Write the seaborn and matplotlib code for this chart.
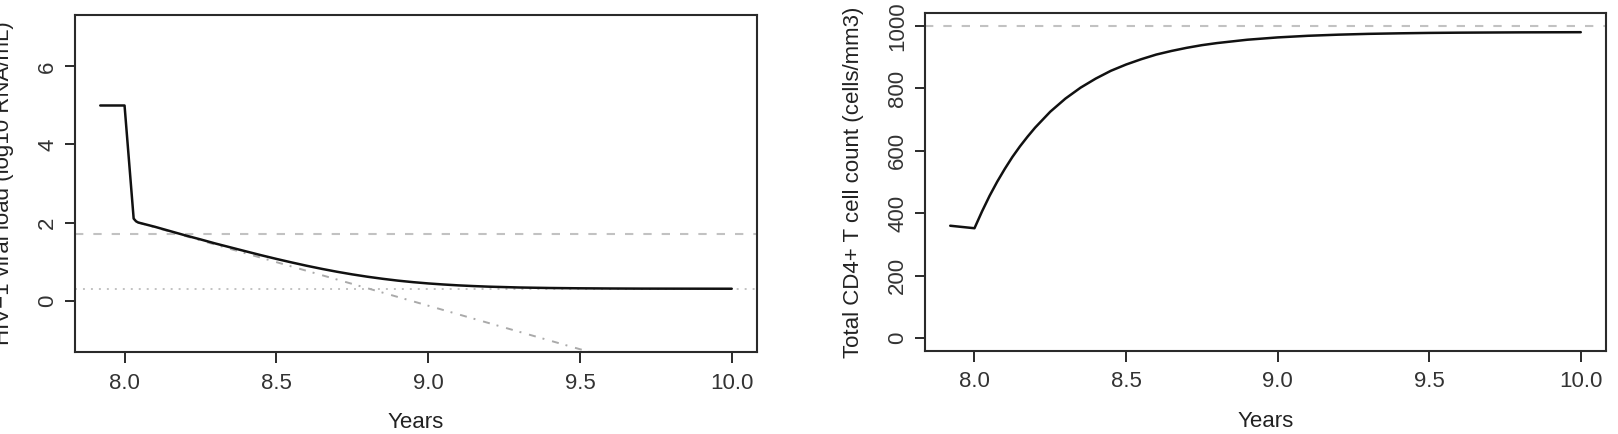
import numpy as np
import pandas as pd
import matplotlib
matplotlib.use("Agg")
import matplotlib.pyplot as plt
import seaborn as sns

# ---- data ----
vl_years = [7.92, 8.0, 8.03, 8.038, 8.045, 8.1, 8.15, 8.2, 8.25, 8.3, 8.35, 8.4, 8.45,
            8.5, 8.55, 8.6, 8.65, 8.7, 8.75, 8.8, 8.85, 8.9, 8.95, 9.0, 9.05, 9.1,
            9.15, 9.2, 9.3, 9.4, 9.5, 9.6, 9.7, 9.8, 9.9, 10.0]
vl_log10 = [5.0, 5.0, 2.1, 2.03, 2.0, 1.89, 1.78, 1.67, 1.567, 1.46, 1.36, 1.26, 1.161,
            1.067, 0.977, 0.891, 0.811, 0.737, 0.67, 0.61, 0.557, 0.51, 0.471, 0.438, 0.411, 0.388,
            0.37, 0.355, 0.334, 0.321, 0.313, 0.308, 0.305, 0.304, 0.303, 0.302]
decay_years = [8.045, 9.55]
decay_log10 = [2.0, -1.36]
vl_threshold = 1.699   # log10(50)
vl_floor = 0.301       # log10(2)

cd4_years = [7.92, 8.0, 8.025, 8.05, 8.075, 8.1, 8.125, 8.15, 8.175, 8.2, 8.25, 8.3,
             8.35, 8.4, 8.45, 8.5, 8.55, 8.6, 8.65, 8.7, 8.75, 8.8, 8.9, 9.0, 9.1,
             9.2, 9.3, 9.4, 9.5, 9.6, 9.8, 10.0]
cd4_count = [360, 352, 406, 456, 501, 542, 580, 614, 645, 674, 725, 767,
             802, 831, 856, 876, 893, 908, 919.5, 929.5, 938, 944.7, 955.4, 962.8, 968,
             971.6, 974.2, 975.9, 977.2, 978, 979, 979.5]
cd4_target = 1000

x_ticks = [8.0, 8.5, 9.0, 9.5, 10.0]
x_ticklabels = ["8.0", "8.5", "9.0", "9.5", "10.0"]
vl_yticks = [0, 2, 4, 6]
cd4_yticks = [0, 200, 400, 600, 800, 1000]

# ---- style ----
sns.set_theme(style="white")
plt.rcParams["font.family"] = ["Liberation Sans", "DejaVu Sans"]
FS = 16
BOX = "#2a2a2a"
GRAY = "#c2c2c2"

W, H = 1618, 434
fig = plt.figure(figsize=(W / 100, H / 100), dpi=100)

def px_axes(left, top, right, bottom):
    return fig.add_axes([left / W, 1 - bottom / H, (right - left) / W, (bottom - top) / H])

ax1 = px_axes(75, 15, 757, 352)
ax2 = px_axes(925, 13.3, 1606, 350.7)

df_vl = pd.DataFrame({"Years": vl_years, "vl": vl_log10})
df_dec = pd.DataFrame({"Years": decay_years, "vl": decay_log10})
df_cd4 = pd.DataFrame({"Years": cd4_years, "cd4": cd4_count})

# left panel
ax1.axhline(vl_threshold, color=GRAY, lw=1.5, linestyle=(0, (4.0, 4.8)), zorder=1)
ax1.axhline(vl_floor, color=GRAY, lw=1.4, linestyle=(0, (1.0, 3.1)), zorder=1)
sns.lineplot(data=df_dec, x="Years", y="vl", ax=ax1, color="#aaaaaa", lw=1.4,
             linestyle=(0, (3.6, 3.6, 1.0, 4.1)), estimator=None, sort=False, zorder=2)
sns.lineplot(data=df_vl, x="Years", y="vl", ax=ax1, color="#111111", lw=1.8,
             estimator=None, sort=False, zorder=3)
ax1.set_xlim(7.8368, 10.0832)
ax1.set_ylim(-1.32, 7.32)
ax1.set_yticks(vl_yticks)
ax1.set_yticklabels([str(v) for v in vl_yticks])
ax1.set_ylabel("HIV\u22121 viral load (log10 RNA/mL)", fontsize=FS, color="#222222")

# right panel
ax2.axhline(cd4_target, color=GRAY, lw=1.5, linestyle=(0, (4.0, 4.8)), zorder=1)
sns.lineplot(data=df_cd4, x="Years", y="cd4", ax=ax2, color="#111111", lw=1.8,
             estimator=None, sort=False, zorder=3)
ax2.set_xlim(7.8368, 10.0832)
ax2.set_ylim(-40, 1040)
ax2.set_yticks(cd4_yticks)
ax2.set_yticklabels([str(v) for v in cd4_yticks])
ax2.set_ylabel("Total CD4+ T cell count (cells/mm3)", fontsize=FS, color="#222222")

for ax in (ax1, ax2):
    ax.set_xticks(x_ticks)
    ax.set_xticklabels(x_ticklabels)
    ax.set_xlabel("Years", fontsize=FS, color="#222222")
    ax.xaxis.set_label_coords(0.5, -0.178)
    ax.yaxis.set_label_coords(-0.089, 0.5)
    for s in ax.spines.values():
        s.set_visible(True)
        s.set_color(BOX)
        s.set_linewidth(1.5)
    ax.tick_params(axis="x", direction="out", length=7.9, width=1.4, color=BOX,
                   labelsize=FS, labelcolor="#333333", pad=7, bottom=True)
    ax.tick_params(axis="y", direction="out", length=7.2, width=1.4, color=BOX,
                   labelsize=FS, labelcolor="#333333", pad=5, left=True, labelrotation=90)
    for lab in ax.get_yticklabels():
        lab.set_va("center")
    ax.set_facecolor("white")

fig.savefig("out.png", dpi=100, facecolor="white")
